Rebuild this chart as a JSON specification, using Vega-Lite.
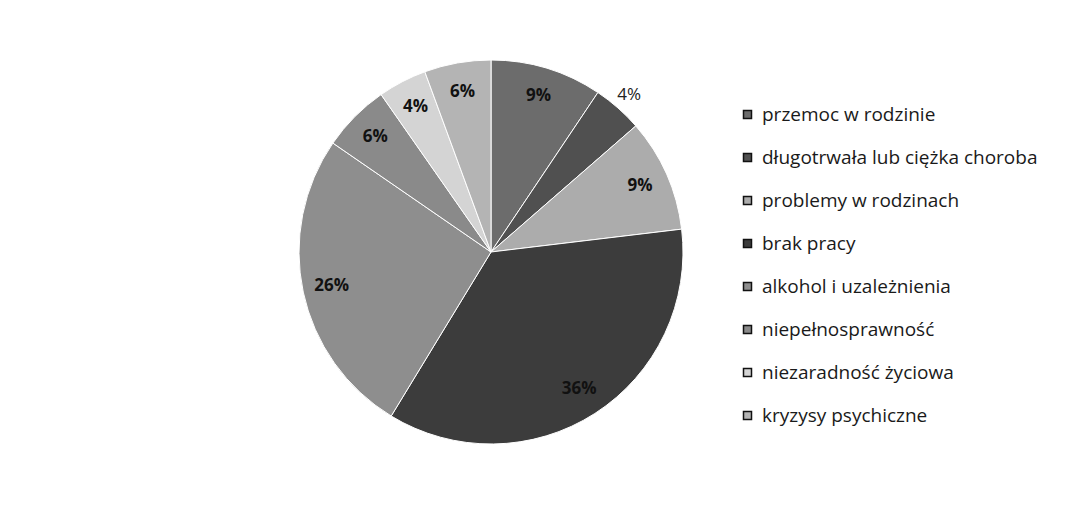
{
  "$schema": "https://vega.github.io/schema/vega-lite/v6.json",
  "width": 384,
  "height": 384,
  "autosize": {"type": "none"},
  "padding": {"left": 299, "top": 60, "right": 392, "bottom": 65},
  "background": "white",
  "config": {"view": {"stroke": null}, "font": "Open Sans"},
  "data": {
    "values": [
      {"idx": 1, "kategoria": "przemoc w rodzinie", "procent": 9.4, "etykieta": "9%"},
      {"idx": 2, "kategoria": "długotrwała lub ciężka choroba", "procent": 4.2, "etykieta": "4%"},
      {"idx": 3, "kategoria": "problemy w rodzinach", "procent": 9.5, "etykieta": "9%"},
      {"idx": 4, "kategoria": "brak pracy", "procent": 35.6, "etykieta": "36%"},
      {"idx": 5, "kategoria": "alkohol i uzależnienia", "procent": 25.9, "etykieta": "26%"},
      {"idx": 6, "kategoria": "niepełnosprawność", "procent": 5.7, "etykieta": "6%"},
      {"idx": 7, "kategoria": "niezaradność życiowa", "procent": 4.1, "etykieta": "4%"},
      {"idx": 8, "kategoria": "kryzysy psychiczne", "procent": 5.6, "etykieta": "6%"}
    ]
  },
  "encoding": {
    "theta": {"field": "procent", "type": "quantitative", "stack": true},
    "order": {"field": "idx", "type": "quantitative"}
  },
  "layer": [
    {
      "mark": {"type": "arc", "outerRadius": 192, "stroke": "white", "strokeWidth": 1},
      "encoding": {
        "color": {
          "field": "kategoria",
          "type": "nominal",
          "sort": ["przemoc w rodzinie", "długotrwała lub ciężka choroba", "problemy w rodzinach", "brak pracy", "alkohol i uzależnienia", "niepełnosprawność", "niezaradność życiowa", "kryzysy psychiczne"],
          "scale": {
            "domain": ["przemoc w rodzinie", "długotrwała lub ciężka choroba", "problemy w rodzinach", "brak pracy", "alkohol i uzależnienia", "niepełnosprawność", "niezaradność życiowa", "kryzysy psychiczne"],
            "range": ["#6c6c6c", "#505050", "#acacac", "#3c3c3c", "#8e8e8e", "#8a8a8a", "#d4d4d4", "#b4b4b4"]
          },
          "legend": {
            "title": null,
            "orient": "none",
            "legendX": 439,
            "legendY": 45,
            "symbolType": "square",
            "symbolSize": 64,
            "symbolStrokeColor": "#111111",
            "symbolStrokeWidth": 1.5,
            "labelFont": "Open Sans",
            "labelFontSize": 19,
            "labelColor": "#1a1a1a",
            "labelOffset": 5,
            "rowPadding": 23,
            "labelLimit": 400
          }
        }
      }
    },
    {
      "mark": {"type": "text", "radius": 163, "font": "Open Sans", "fontSize": 17, "fontWeight": "bold", "color": "#111111"},
      "encoding": {"text": {"condition": {"test": "datum.idx == 2", "value": ""}, "field": "etykieta", "type": "nominal"}}
    },
    {
      "mark": {"type": "text", "radius": 209, "font": "Open Sans", "fontSize": 17, "color": "#222222"},
      "encoding": {"text": {"condition": {"test": "datum.idx != 2", "value": ""}, "field": "etykieta", "type": "nominal"}}
    }
  ]
}
